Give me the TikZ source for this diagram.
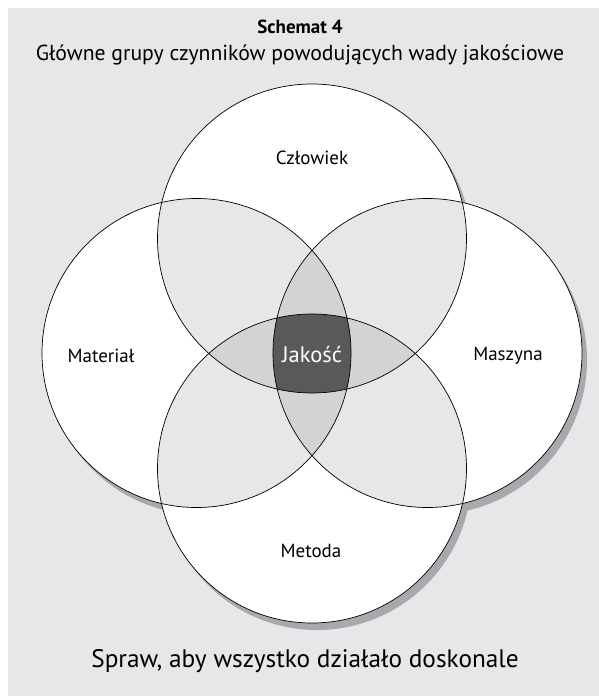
\documentclass[tikz,border=0pt]{standalone}
\usepackage{fontspec}
\setmainfont{PT Sans}
\definecolor{bgc}{HTML}{E6E7E8}
\definecolor{trip}{HTML}{D1D3D4}
\definecolor{quad}{HTML}{58595B}
\definecolor{shad}{HTML}{A7A9AC}
\tikzset{
  ring/.style={draw=black, line width=0.7pt},
  lbl/.style={font=\fontsize{19}{22}\selectfont, text=black, inner sep=0pt},
}
\newcommand{\Rr}{154.5pt}
\begin{document}
\begin{tikzpicture}[x=1pt,y=-1pt]
\useasboundingbox (0,0) rectangle (599,696);
\fill[bgc] (8,8) rectangle (599,696);
\coordinate (T) at (312,238.5);
\coordinate (B) at (312,468.5);
\coordinate (L) at (196.5,353);
\coordinate (R) at (427.5,353);
% shadows
\foreach \c in {T,B,L,R}{
  \fill[shad] ([shift={(5,7)}]\c) circle[radius=\Rr];
}
% white discs
\foreach \c in {T,B,L,R}{
  \fill[white] (\c) circle[radius=\Rr];
}
% pair overlaps
\foreach \a/\b in {T/L,T/R,T/B,L/R,L/B,R/B}{
  \begin{scope}
    \clip (\a) circle[radius=\Rr];
    \fill[bgc] (\b) circle[radius=\Rr];
  \end{scope}
}
% triple overlaps
\foreach \a/\b/\c in {T/L/R,T/L/B,T/R/B,L/R/B}{
  \begin{scope}
    \clip (\a) circle[radius=\Rr];
    \clip (\b) circle[radius=\Rr];
    \fill[trip] (\c) circle[radius=\Rr];
  \end{scope}
}
% quadruple overlap
\begin{scope}
  \clip (T) circle[radius=\Rr];
  \clip (B) circle[radius=\Rr];
  \clip (L) circle[radius=\Rr];
  \fill[quad] (R) circle[radius=\Rr];
\end{scope}
% outlines
\foreach \c in {T,B,L,R}{
  \draw[ring] (\c) circle[radius=\Rr];
}
% texts
\node[font=\bfseries\fontsize{19}{22}\selectfont, inner sep=0pt] (title) at (300,27) {Schemat 4};
\node[font=\fontsize{21.7}{24}\selectfont, inner sep=0pt] (sub) at (300,55) {Główne grupy czynników powodujących wady jakościowe};
\node[lbl] (czl) at (312,158) {Człowiek};
\node[lbl] (mat) at (101,356) {Materiał};
\node[lbl] (masz) at (508,356) {Maszyna};
\node[lbl] (met) at (311,551) {Metoda};
\node[font=\fontsize{22.5}{26}\selectfont, text=white, inner sep=0pt] (jak) at (312,355) {Jakość};
\node[font=\fontsize{25.3}{30}\selectfont, inner sep=0pt] (foot) at (305,661) {Spraw, aby wszystko działało doskonale};
\end{tikzpicture}
\end{document}
